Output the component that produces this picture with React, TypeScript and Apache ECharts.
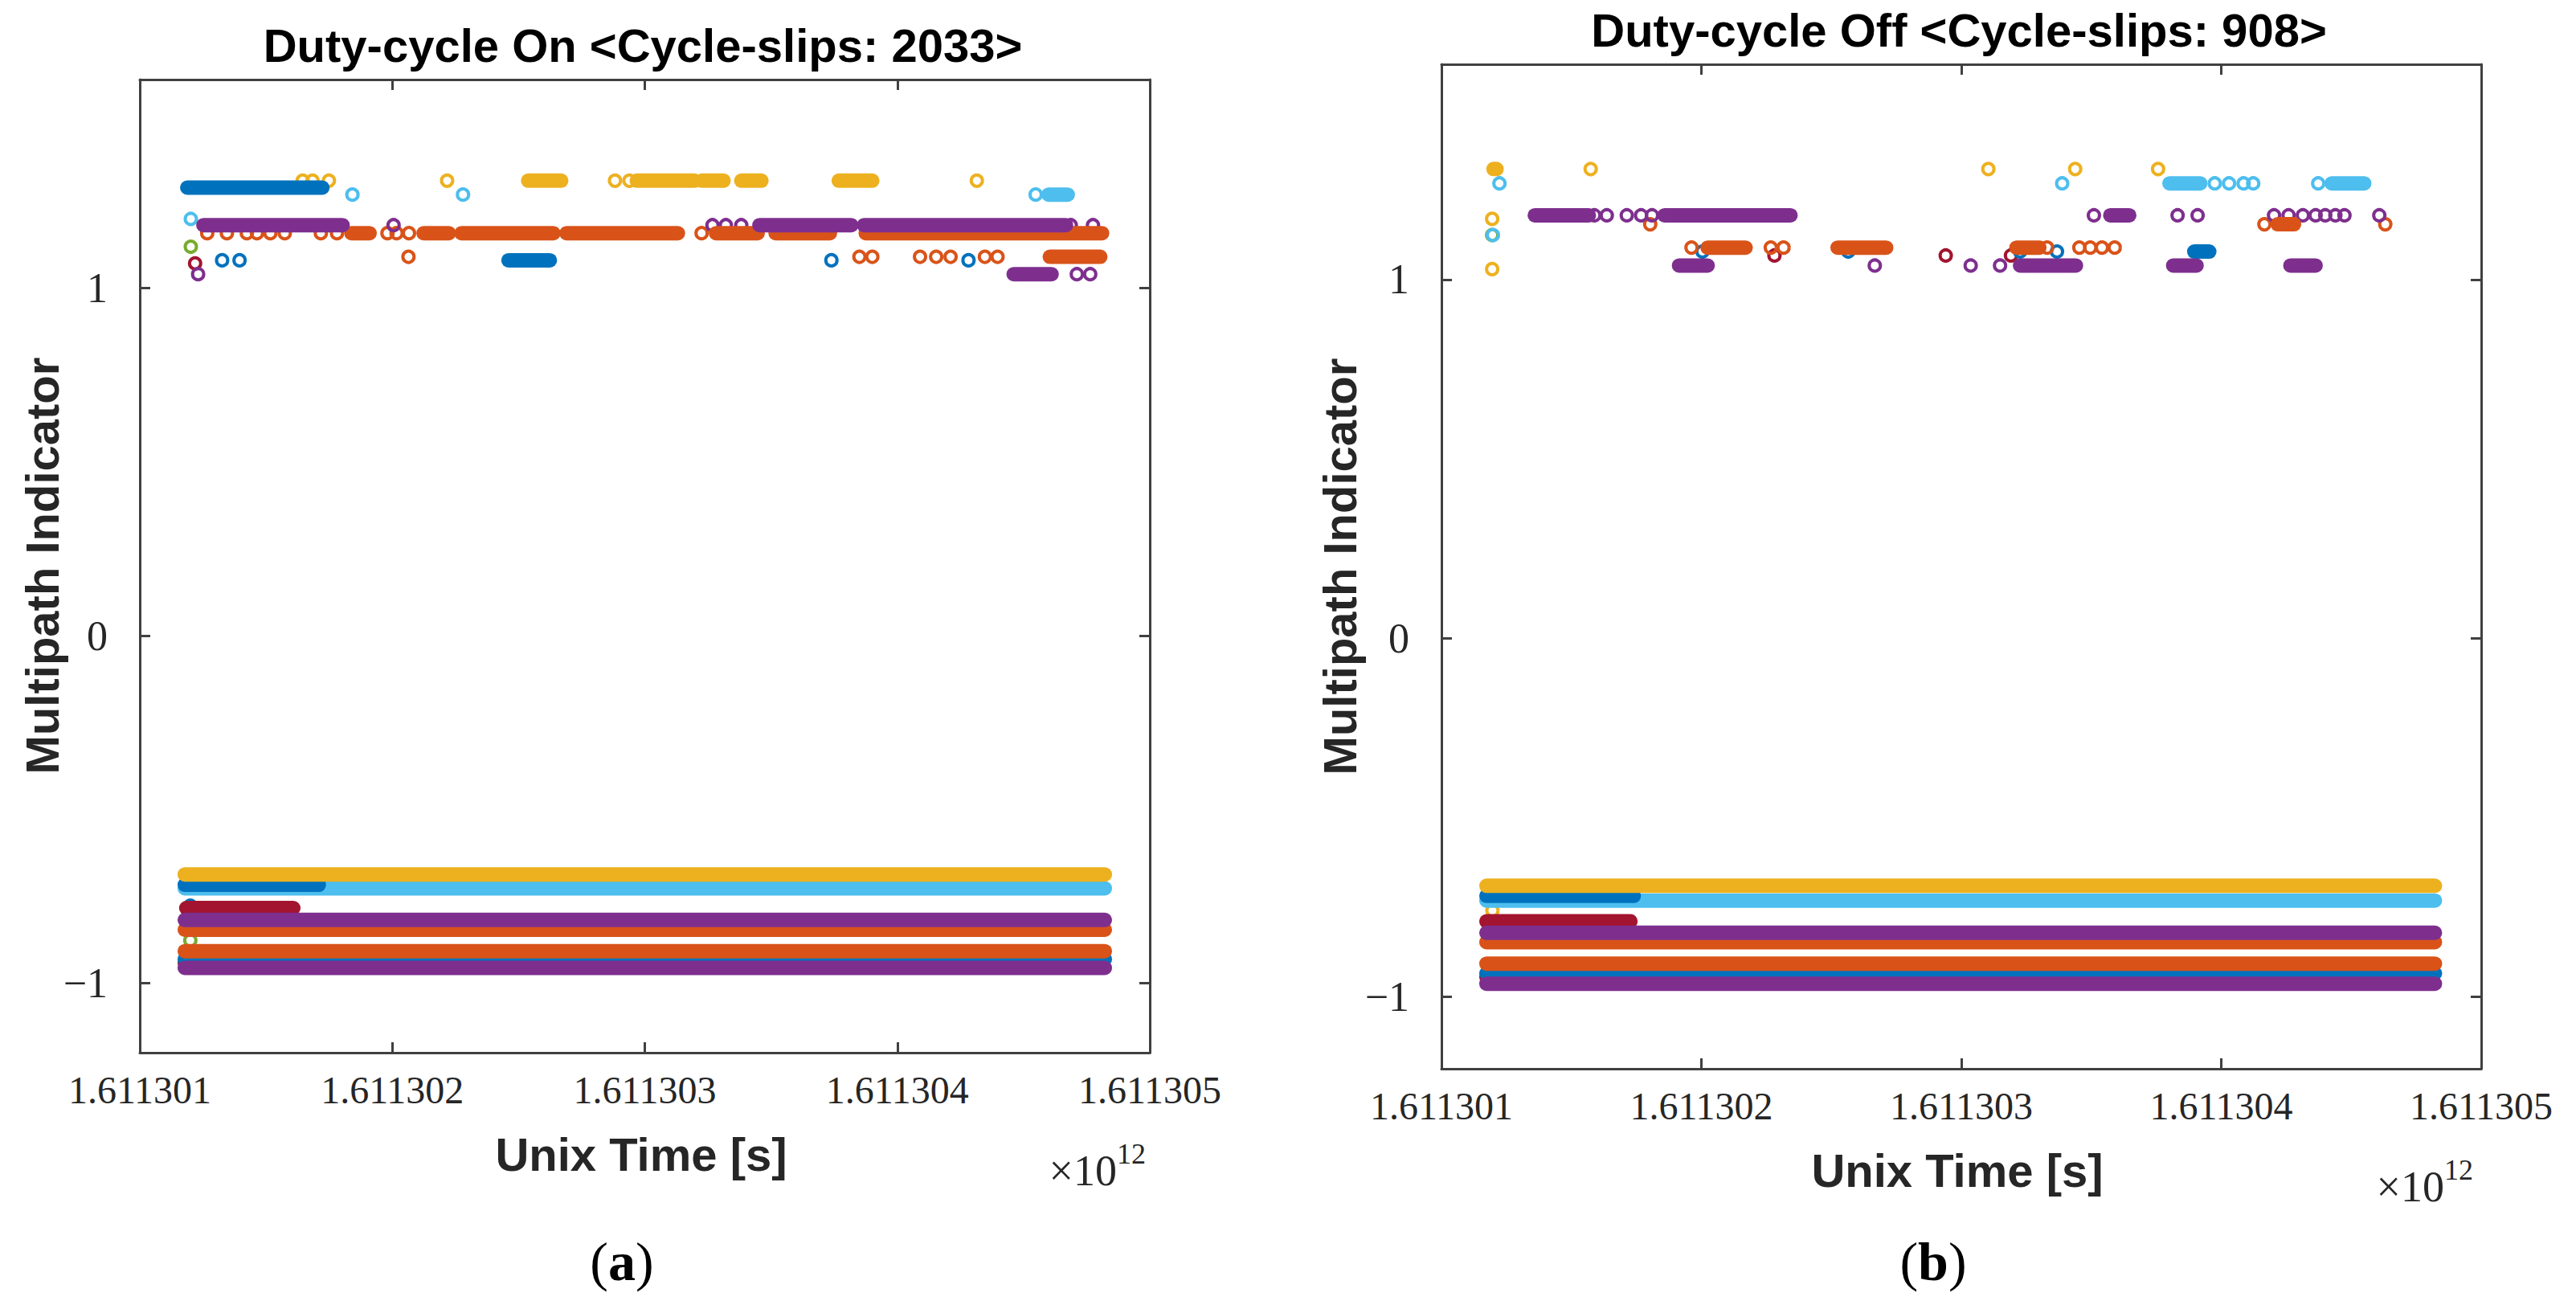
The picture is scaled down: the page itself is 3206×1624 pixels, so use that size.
import React, { useEffect, useRef } from "react";
import * as echarts from "echarts";

// x values: seconds after Unix time 1611301000 s (axis shows ms ×10^12)
const T0 = 1611301000;
const X_MIN = 0;
const X_MAX = 4000;
const X_STEP = 1000;
const Y_MIN = -1.2;
const Y_MAX = 1.6;
const Y_TICKS = [-1, 0, 1];

const TITLE_ON = "Duty-cycle On <Cycle-slips: 2033>";
const TITLE_OFF = "Duty-cycle Off <Cycle-slips: 908>";
const Y_NAME = "Multipath Indicator";
const X_NAME = "Unix Time [s]";

const C = {
  blue: "#0072BD",
  orange: "#D95319",
  yellow: "#EDB120",
  purple: "#7E2F8E",
  green: "#77AC30",
  lightBlue: "#4DBEEE",
  darkRed: "#A2142F",
};

// ---------- (a) Duty-cycle On ----------  runs: [tStart, tEnd, value], dots: [t, value]
const onGreenDots = [[202, 1.119], [200, -0.877]];
const onLightBlueRuns = [[3599, 3675, 1.269], [178, 3822, -0.727]];
const onLightBlueDots = [[842, 1.269], [1280, 1.269], [3548, 1.269], [202, 1.199]];
const onDarkRedRuns = [[184, 608, -0.784], [178, 746, -0.941]];
const onDarkRedDots = [[219, 1.071]];
const onBlueRuns = [[188, 723, 1.289], [1460, 1624, 1.08], [178, 709, -0.717], [178, 3822, -0.931]];
const onBlueDots = [[326, 1.08], [395, 1.08], [2739, 1.08], [3282, 1.08], [200, -0.777]];
const onOrangeRuns = [
  [838, 910, 1.158], [1124, 1224, 1.158], [1274, 1638, 1.158], [1690, 2131, 1.158],
  [2282, 2447, 1.158], [2518, 2733, 1.158], [2875, 3811, 1.158], [3604, 3804, 1.09],
  [178, 3822, -0.846], [178, 3822, -0.908],
];
const onOrangeDots = [
  [267, 1.158], [345, 1.158], [424, 1.158], [464, 1.158], [517, 1.158], [574, 1.158],
  [717, 1.158], [781, 1.158], [981, 1.158], [1017, 1.158], [1066, 1.158], [2225, 1.158],
  [1064, 1.09], [2850, 1.09], [2901, 1.09], [3090, 1.09], [3154, 1.09], [3211, 1.09],
  [3347, 1.09], [3397, 1.09],
];
const onPurpleRuns = [
  [252, 803, 1.181], [2454, 2818, 1.181], [2868, 3668, 1.181], [3461, 3611, 1.04],
  [178, 3822, -0.818], [178, 3822, -0.956],
];
const onPurpleDots = [
  [1005, 1.181], [2268, 1.181], [2321, 1.181], [2382, 1.181], [3687, 1.181], [3775, 1.181],
  [231, 1.04], [3711, 1.04], [3764, 1.04],
];
const onYellowRuns = [
  [1538, 1669, 1.309], [1968, 2197, 1.309], [2226, 2312, 1.309], [2382, 2462, 1.309],
  [2768, 2901, 1.309], [178, 3822, -0.687],
];
const onYellowDots = [
  [645, 1.309], [684, 1.309], [749, 1.309], [1217, 1.309], [1882, 1.309], [1939, 1.309], [3315, 1.309],
];

// ---------- (b) Duty-cycle Off ----------
const offGreenDots = [[195, 1.124]];
const offLightBlueRuns = [[2801, 2919, 1.268], [3425, 3550, 1.268], [173, 3822, -0.731]];
const offLightBlueDots = [
  [223, 1.268], [2388, 1.268], [2975, 1.268], [3030, 1.268], [3086, 1.268], [3123, 1.268],
  [3373, 1.268], [198, 1.124],
];
const offDarkRedRuns = [[173, 727, -0.789], [173, 2995, -0.944]];
const offDarkRedDots = [[1281, 1.067], [1940, 1.067], [2191, 1.067]];
const offBlueRuns = [[2896, 2954, 1.078], [173, 740, -0.718], [173, 3822, -0.934]];
const offBlueDots = [[1004, 1.078], [1565, 1.078], [2226, 1.078], [2368, 1.078]];
const offOrangeRuns = [
  [3217, 3280, 1.154], [1024, 1170, 1.089], [1524, 1711, 1.089], [2212, 2300, 1.089],
  [173, 3822, -0.847], [173, 3822, -0.907],
];
const offOrangeDots = [
  [803, 1.154], [3166, 1.154], [3631, 1.154], [962, 1.089], [1267, 1.089], [1316, 1.089],
  [2330, 1.089], [2454, 1.089], [2496, 1.089], [2541, 1.089], [2590, 1.089],
];
const offPurpleRuns = [
  [359, 567, 1.179], [858, 1343, 1.179], [2573, 2646, 1.179], [914, 1024, 1.039],
  [2226, 2441, 1.039], [2815, 2905, 1.039], [3266, 3363, 1.039],
  [173, 3822, -0.821], [173, 3822, -0.963],
];
const offPurpleDots = [
  [588, 1.179], [636, 1.179], [713, 1.179], [768, 1.179], [810, 1.179], [2510, 1.179],
  [2832, 1.179], [2909, 1.179], [3203, 1.179], [3259, 1.179], [3314, 1.179], [3363, 1.179],
  [3400, 1.179], [3439, 1.179], [3474, 1.179], [3608, 1.179],
  [1667, 1.039], [2036, 1.039], [2149, 1.039],
];
const offYellowRuns = [[200, 212, 1.308], [173, 3822, -0.69]];
const offYellowDots = [
  [574, 1.308], [2104, 1.308], [2438, 1.308], [2757, 1.308], [195, 1.169], [195, 1.029], [196, -0.759],
];

// draw order (bottom -> top)
const panelOn = [
  { color: C.green, runs: [], dots: onGreenDots },
  { color: C.lightBlue, runs: onLightBlueRuns, dots: onLightBlueDots },
  { color: C.darkRed, runs: onDarkRedRuns, dots: onDarkRedDots },
  { color: C.blue, runs: onBlueRuns, dots: onBlueDots },
  { color: C.orange, runs: onOrangeRuns, dots: onOrangeDots },
  { color: C.purple, runs: onPurpleRuns, dots: onPurpleDots },
  { color: C.yellow, runs: onYellowRuns, dots: onYellowDots },
];
const panelOff = [
  { color: C.green, runs: [], dots: offGreenDots },
  { color: C.lightBlue, runs: offLightBlueRuns, dots: offLightBlueDots },
  { color: C.darkRed, runs: offDarkRedRuns, dots: offDarkRedDots },
  { color: C.blue, runs: offBlueRuns, dots: offBlueDots },
  { color: C.orange, runs: offOrangeRuns, dots: offOrangeDots },
  { color: C.purple, runs: offPurpleRuns, dots: offPurpleDots },
  { color: C.yellow, runs: offYellowRuns, dots: offYellowDots },
];

const AXIS_COLOR = "#404040";
const LABEL_COLOR = "#262626";
const SERIF = "'Liberation Serif', 'DejaVu Serif', serif";
const SANS = "'Liberation Sans', Arial, Helvetica, sans-serif";

function buildSeries(panel: any[], xi: number, yi: number) {
  const out: any[] = [];
  panel.forEach((g) => {
    g.runs.forEach((r: number[]) => {
      out.push({
        type: "line",
        xAxisIndex: xi,
        yAxisIndex: yi,
        data: [[r[0], r[2]], [r[1], r[2]]],
        symbol: "none",
        silent: true,
        lineStyle: { color: g.color, width: 18, cap: "round" },
      });
    });
    if (g.dots.length) {
      out.push({
        type: "scatter",
        xAxisIndex: xi,
        yAxisIndex: yi,
        data: g.dots,
        symbol: "circle",
        symbolSize: 14,
        silent: true,
        itemStyle: { color: "rgba(0,0,0,0)", borderColor: g.color, borderWidth: 4, opacity: 1 },
      });
    }
  });
  return out;
}

function xAxes(gridIndex: number) {
  const common = {
    type: "value",
    gridIndex,
    min: X_MIN,
    max: X_MAX,
    interval: X_STEP,
    splitLine: { show: false },
    axisLine: { show: true, onZero: false, lineStyle: { color: AXIS_COLOR, width: 3 } },
    axisTick: { show: true, inside: true, length: 13, lineStyle: { color: AXIS_COLOR, width: 3 } },
  };
  return [
    {
      ...common,
      position: "bottom",
      axisLabel: {
        show: true,
        margin: 22,
        color: LABEL_COLOR,
        fontFamily: SERIF,
        fontSize: 48,
        showMinLabel: true,
        showMaxLabel: true,
        formatter: (v: number) => ((T0 + v) / 1e9).toFixed(6),
      },
    },
    { ...common, position: "top", axisLabel: { show: false } },
  ];
}

function yAxes(gridIndex: number) {
  const common = {
    type: "value",
    gridIndex,
    min: Y_MIN,
    max: Y_MAX,
    splitLine: { show: false },
    axisLine: { show: true, onZero: false, lineStyle: { color: AXIS_COLOR, width: 3 } },
    axisTick: {
      show: true,
      inside: true,
      length: 13,
      customValues: Y_TICKS,
      lineStyle: { color: AXIS_COLOR, width: 3 },
    },
  };
  return [
    {
      ...common,
      position: "left",
      axisLabel: {
        show: true,
        margin: 40,
        color: LABEL_COLOR,
        fontFamily: SERIF,
        fontSize: 52,
        customValues: Y_TICKS,
        formatter: (v: number) => (v < 0 ? "\u2212" + Math.abs(v) : String(v)),
      },
    },
    { ...common, position: "right", axisLabel: { show: false } },
  ];
}

function txt(x: number, y: number, text: string, font: any, extra: any = {}) {
  return {
    type: "text",
    x,
    y,
    ...extra,
    style: {
      text,
      fill: font.color || LABEL_COLOR,
      fontFamily: font.family,
      fontSize: font.size,
      fontWeight: font.weight || "normal",
      align: font.align || "center",
      verticalAlign: "middle",
      textAlign: font.align || "center",
      textVerticalAlign: "middle",
    },
  };
}

function panelLabel(x: number, y: number, letter: string) {
  return {
    type: "text",
    x,
    y,
    style: {
      text: "{p|(}{b|" + letter + "}{p|)}",
      align: "center",
      verticalAlign: "middle",
      textAlign: "center",
      textVerticalAlign: "middle",
      rich: {
        p: { fontFamily: SERIF, fontSize: 68, fill: "#000", color: "#000" },
        b: { fontFamily: SERIF, fontSize: 68, fontWeight: "bold", fill: "#000", color: "#000" },
      },
    },
  };
}

export default function App() {
  const ref = useRef<HTMLDivElement>(null);
  useEffect(() => {
    if (!ref.current) return;
    const chart = echarts.init(ref.current, null, { renderer: "svg" });
    const bold = { family: SANS, size: 58, weight: "bold" };
    const option: any = {
      animation: false,
      backgroundColor: "#ffffff",
      grid: [
        { left: 174, top: 99, width: 1257, height: 1211, containLabel: false, outerBoundsMode: "none" },
        { left: 1794, top: 80, width: 1294, height: 1250, containLabel: false, outerBoundsMode: "none" },
      ],
      xAxis: [...xAxes(0), ...xAxes(1)],
      yAxis: [...yAxes(0), ...yAxes(1)],
      series: [...buildSeries(panelOn, 0, 0), ...buildSeries(panelOff, 2, 2)],
      graphic: [
        txt(800, 56, TITLE_ON, { ...bold, color: "#000000" }),
        txt(2438, 37, TITLE_OFF, { ...bold, color: "#000000" }),
        txt(52, 704, Y_NAME, bold, { rotation: Math.PI / 2 }),
        txt(1667, 705, Y_NAME, bold, { rotation: Math.PI / 2 }),
        txt(798, 1436, X_NAME, bold),
        txt(2436, 1456, X_NAME, bold),
        txt(1390, 1457, "\u00d710", { family: SERIF, size: 54, align: "right" }),
        txt(1390, 1436, "12", { family: SERIF, size: 36, align: "left" }),
        txt(3042, 1477, "\u00d710", { family: SERIF, size: 54, align: "right" }),
        txt(3042, 1456, "12", { family: SERIF, size: 36, align: "left" }),
        panelLabel(774, 1570, "a"),
        panelLabel(2406, 1570, "b"),
      ],
    };
    chart.setOption(option);
    return () => chart.dispose();
  }, []);
  return (
    <div
      ref={ref}
      style={{ position: "fixed", left: 0, top: 0, width: 3206, height: 1624, background: "#ffffff" }}
    />
  );
}
